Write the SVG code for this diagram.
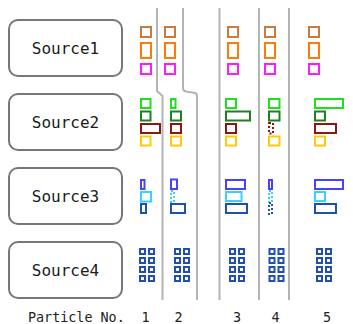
<svg xmlns="http://www.w3.org/2000/svg" width="353" height="324" viewBox="0 0 353 324">
  <style>
    .src rect { fill: #ffffff; stroke: #777777; stroke-width: 2; }
    .src text { font-family: "DejaVu Sans Mono", "Liberation Mono", monospace; font-size: 16px; fill: #1a1a1a; text-anchor: middle; }
    .sep { fill: none; stroke: #b4b4b4; stroke-width: 2; }
    .p rect { fill: none; stroke-width: 2; }
    .dot { stroke-dasharray: 2 2; }
    .c-brown { stroke: #cc7a40; }
    .c-orange { stroke: #ff7a0a; }
    .c-mag { stroke: #ff1aff; }
    .c-green { stroke: #1ee01e; }
    .c-dgreen { stroke: #1f801f; }
    .c-dred { stroke: #8a1616; }
    .c-yellow { stroke: #ffc80a; }
    .c-blue { stroke: #4a40ff; }
    .c-cyan { stroke: #3ad0ff; }
    .c-navy { stroke: #1f4fb0; }
    .gc { fill: none; stroke: #1f4fb0; stroke-width: 2; }
    .lbl { font-family: "DejaVu Sans Mono", "Liberation Mono", monospace; font-size: 13.4px; fill: #222222; }
  </style>
  <defs>
    <!-- 2x4 block of small squares -->
    <g id="cell">
      <rect class="gc" x="1" y="1" width="5" height="5"/><rect class="gc" x="10" y="1" width="5" height="5"/>
      <rect class="gc" x="1" y="10" width="5" height="5"/><rect class="gc" x="10" y="10" width="5" height="5"/>
      <rect class="gc" x="1" y="19" width="5" height="5"/><rect class="gc" x="10" y="19" width="5" height="5"/>
      <rect class="gc" x="1" y="28" width="5" height="5"/><rect class="gc" x="10" y="28" width="5" height="5"/>
    </g>
  </defs>

  <!-- source nodes -->
  <g id="source1" class="src"><rect x="9" y="20" width="113" height="56" rx="9"/><text x="65.5" y="54">Source1</text></g>
  <g id="source2" class="src"><rect x="9" y="94" width="113" height="56" rx="9"/><text x="65.5" y="128">Source2</text></g>
  <g id="source3" class="src"><rect x="9" y="168" width="113" height="56" rx="9"/><text x="65.5" y="202">Source3</text></g>
  <g id="source4" class="src"><rect x="9" y="242" width="113" height="56" rx="9"/><text x="65.5" y="276">Source4</text></g>

  <!-- particle separators -->
  <g id="separators">
    <path class="sep" d="M157,8 V91 L162.5,96 V300"/>
    <path class="sep" d="M183,8 V88 Q183,91 186,91.5 L195,93 Q197,93.5 197,96 V300"/>
    <path class="sep" d="M219.5,8 V300"/>
    <path class="sep" d="M259,8 V300"/>
    <path class="sep" d="M289,8 V300"/>
  </g>

  <!-- particle 1 -->
  <g id="particle1" class="p">
    <rect class="c-brown" x="141" y="27" width="10" height="10"/>
    <rect class="c-orange" x="141" y="43" width="10" height="15"/>
    <rect class="c-mag" x="141" y="64" width="10" height="10"/>
    <rect class="c-green" x="141" y="99" width="9.5" height="9"/>
    <rect class="c-dgreen" x="141" y="111.5" width="9.5" height="9"/>
    <rect class="c-dred" x="141" y="124" width="19" height="9"/>
    <rect class="c-yellow" x="141" y="136.5" width="9.5" height="9"/>
    <rect class="c-blue" x="141" y="180" width="3.5" height="9"/>
    <rect class="c-cyan" x="141" y="192" width="10" height="9.5"/>
    <rect class="c-navy" x="141" y="204" width="5" height="9"/>
    <use href="#cell" x="139" y="248"/>
  </g>

  <!-- particle 2 -->
  <g id="particle2" class="p">
    <rect class="c-brown" x="165" y="27" width="10" height="10"/>
    <rect class="c-orange" x="165" y="43" width="10" height="15"/>
    <rect class="c-mag" x="165" y="64" width="10" height="10"/>
    <rect class="c-green" x="171" y="99" width="4.5" height="9"/>
    <rect class="c-dgreen" x="171" y="111.5" width="10" height="9"/>
    <rect class="c-dred" x="171" y="124" width="10" height="9"/>
    <rect class="c-yellow" x="171" y="136.5" width="10" height="9"/>
    <rect class="c-blue" x="171" y="179.5" width="6" height="9.5"/>
    <rect class="c-cyan dot" x="171" y="191" width="3" height="11"/>
    <rect class="c-navy" x="171" y="204" width="14" height="9"/>
    <use href="#cell" x="174" y="248"/>
  </g>

  <!-- particle 3 -->
  <g id="particle3" class="p">
    <rect class="c-brown" x="228" y="27" width="10" height="10"/>
    <rect class="c-orange" x="228" y="43" width="10" height="15"/>
    <rect class="c-mag" x="228" y="64" width="10" height="10"/>
    <rect class="c-green" x="226" y="99" width="10" height="9"/>
    <rect class="c-dgreen" x="226" y="111.5" width="24" height="9"/>
    <rect class="c-dred" x="226" y="124" width="10" height="9"/>
    <rect class="c-yellow" x="226" y="136.5" width="10" height="9"/>
    <rect class="c-blue" x="226" y="180" width="19" height="9"/>
    <rect class="c-cyan" x="226" y="192" width="15.5" height="9"/>
    <rect class="c-navy" x="226" y="204" width="21" height="9"/>
    <use href="#cell" x="229" y="248"/>
  </g>

  <!-- particle 4 -->
  <g id="particle4" class="p">
    <rect class="c-brown" x="265" y="27" width="10" height="10"/>
    <rect class="c-orange" x="265" y="43" width="10" height="15"/>
    <rect class="c-mag" x="265" y="64" width="10" height="10"/>
    <rect class="c-green" x="269" y="99" width="10.5" height="9"/>
    <rect class="c-dgreen" x="269" y="111.5" width="10.5" height="9"/>
    <rect class="c-dred dot" x="269" y="123" width="4" height="10.5"/>
    <rect class="c-yellow" x="269" y="136.5" width="10.5" height="9"/>
    <rect class="c-blue" x="269" y="180" width="3" height="9"/>
    <rect class="c-cyan dot" x="269" y="191" width="3" height="11"/>
    <rect class="c-navy dot" x="269" y="203" width="3" height="11"/>
    <use href="#cell" x="268.5" y="248"/>
  </g>

  <!-- particle 5 -->
  <g id="particle5" class="p">
    <rect class="c-brown" x="309" y="27" width="10" height="10"/>
    <rect class="c-orange" x="309" y="43" width="10" height="15"/>
    <rect class="c-mag" x="309" y="64" width="10" height="10"/>
    <rect class="c-green" x="315" y="99" width="28" height="9"/>
    <rect class="c-dgreen" x="315" y="111.5" width="10" height="9"/>
    <rect class="c-dred" x="315" y="124" width="21" height="9"/>
    <rect class="c-yellow" x="315" y="136.5" width="10" height="9"/>
    <rect class="c-blue" x="315" y="180" width="28" height="9"/>
    <rect class="c-cyan" x="315" y="192" width="10" height="9"/>
    <rect class="c-navy" x="315" y="204" width="21" height="9"/>
    <use href="#cell" x="316" y="248"/>
  </g>

  <!-- axis labels -->
  <g id="labels" class="lbl">
    <text x="28" y="322">Particle No.</text>
    <text x="141.5" y="322">1</text>
    <text x="174.5" y="322">2</text>
    <text x="233" y="322">3</text>
    <text x="271.5" y="322">4</text>
    <text x="323" y="322">5</text>
  </g>
</svg>
